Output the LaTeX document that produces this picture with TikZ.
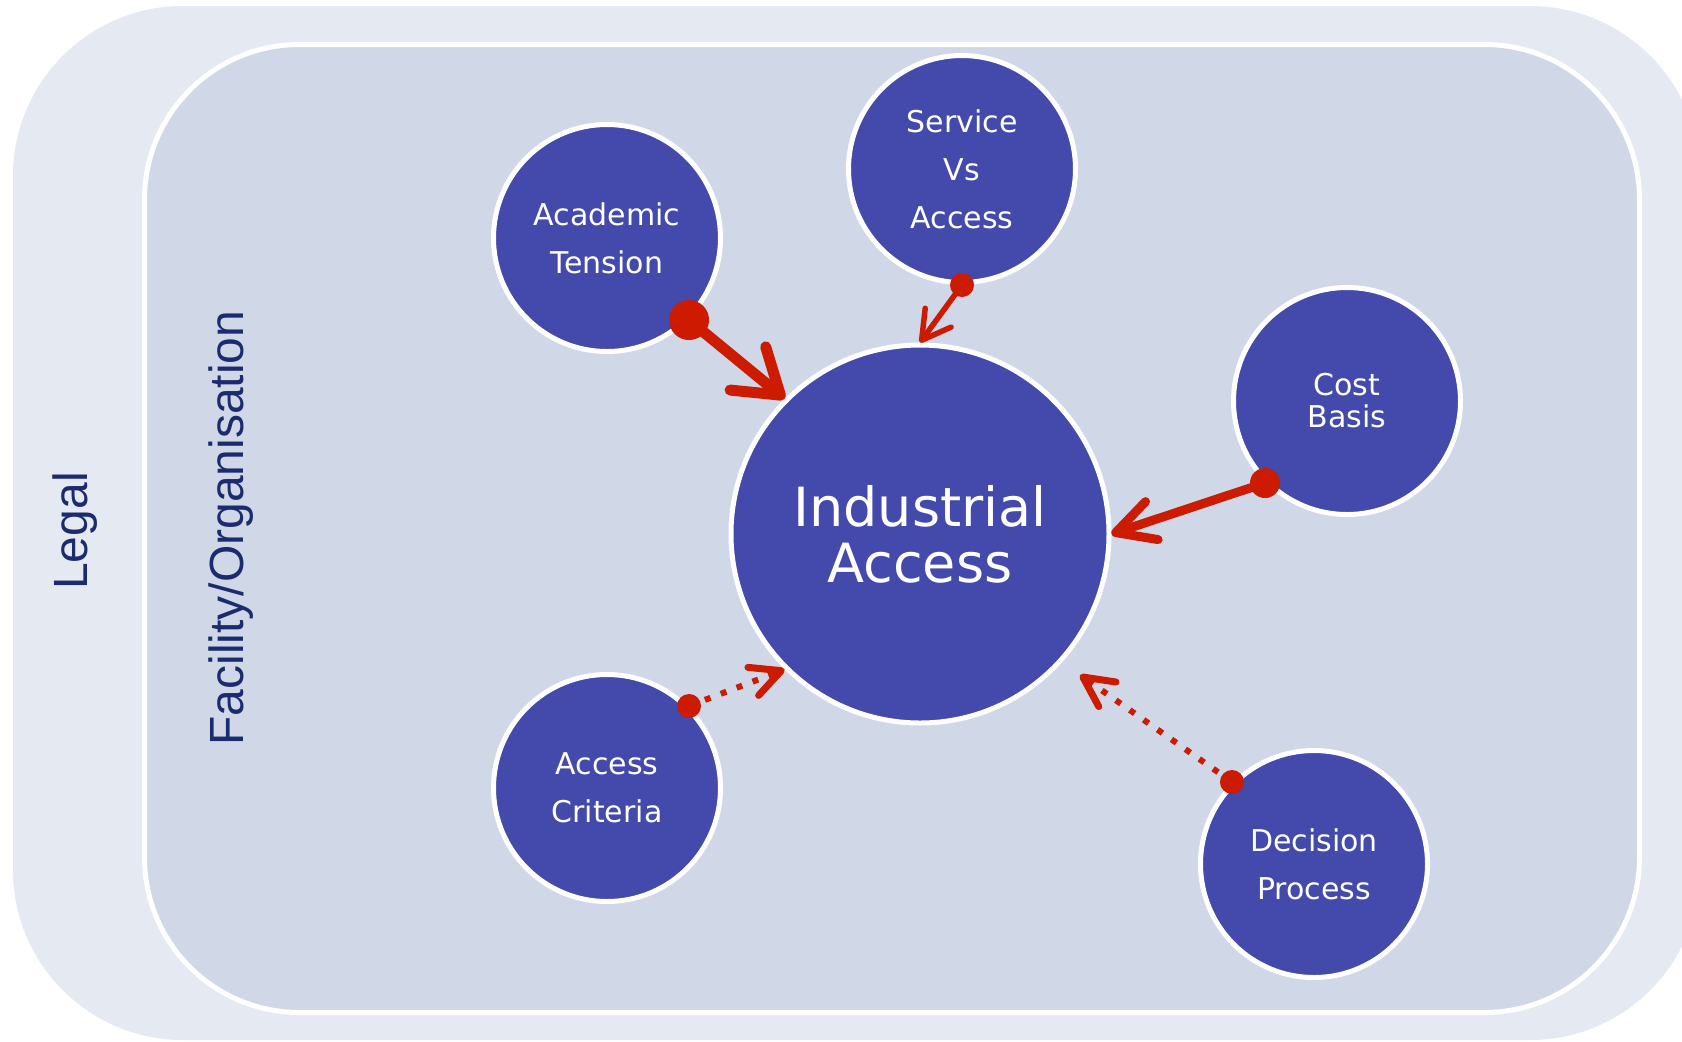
\documentclass[tikz,border=0pt]{standalone}
\usepackage{fontspec}
\setmainfont{DejaVu Sans}
\newfontfamily\labelfont{Liberation Sans}
\usetikzlibrary{arrows.meta,calc}
\definecolor{outerbg}{HTML}{E4E9F2}
\definecolor{innerbg}{HTML}{D0D8E7}
\definecolor{bubblefill}{HTML}{434AAB}
\definecolor{arrowred}{HTML}{CC1B00}
\definecolor{navy}{HTML}{1C2B6E}
\begin{document}
\begin{tikzpicture}[x=0.5pt,y=-0.5pt,
  bubble/.style={circle, fill=bubblefill, draw=white, line width=2.5pt, minimum size=113.5pt, inner sep=0pt, text=white, align=center, font=\fontsize{15}{24}\selectfont},
  hub/.style={bubble, minimum size=189pt, font=\fontsize{27}{28}\selectfont},
  sidelabel/.style={rotate=90, text=navy, font=\labelfont\fontsize{24}{28}\selectfont},
  link/.style={draw=arrowred, line width=#1, line cap=round},
  dotlink/.style={draw=arrowred, line width=3pt, line cap=butt, dash pattern=on 3pt off 5.5pt},
  dotfill/.style={fill=arrowred}
]
\useasboundingbox (0,0) rectangle (1682,1041);
\clip (0,0) rectangle (1682,1041);
\fill[white] (0,0) rectangle (1682,1041);
\fill[outerbg, rounded corners=85pt] (13,6) rectangle (1700,1040);
\filldraw[fill=innerbg, draw=white, line width=2.5pt, rounded corners=77.5pt] (144.5,44.5) rectangle (1639.5,1012.5);

\node[sidelabel] (legal) at (75,531) {Legal};
\node[sidelabel] (facility) at (231,528) {Facility/Organisation};

\node[hub] (ia) at (920,534) {Industrial\\Access};
\node[bubble] (at) at (607,238) {Academic\\Tension};
\node[bubble] (sv) at (962,169) {Service\\Vs\\Access};
\node[bubble, font=\fontsize{15}{16}\selectfont] (cb) at (1347,401) {Cost\\Basis};
\node[bubble] (ac) at (607,788) {Access\\Criteria};
\node[bubble] (dp) at (1314,864) {Decision\\Process};

\coordinate (dpEnd) at ($(ia.center)+(160,141)$);

\draw[link=5.5pt, -{Straight Barb[length=21pt,width=28pt,round]}] (at.-45) -- (ia.135);
\fill[dotfill] (at.-45) circle[radius=10pt];

\draw[link=2.75pt, -{Straight Barb[length=14pt,width=16pt,round]}] (sv.south) -- (ia.north);
\fill[dotfill] (sv.south) circle[radius=6pt];

\draw[link=4.5pt, -{Straight Barb[length=19pt,width=20pt,round]}] (cb.-135) -- (ia.east);
\fill[dotfill] (cb.-135) circle[radius=7.5pt];

\draw[dotlink, -{Straight Barb[length=15pt,width=15pt,round,line width=3.5pt]}] (ac.45) -- (ia.-135);
\fill[dotfill] (ac.45) circle[radius=6pt];

\draw[dotlink, -{Straight Barb[length=15pt,width=15pt,round,line width=3.5pt]}] (dp.135) -- (dpEnd);
\fill[dotfill] (dp.135) circle[radius=6pt];
\end{tikzpicture}
\end{document}
